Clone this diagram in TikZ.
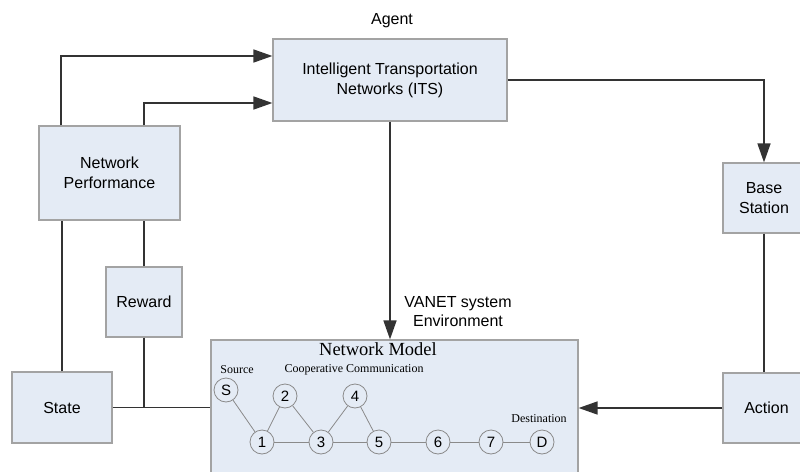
\documentclass[tikz,border=0pt]{standalone}
\usepackage{fontspec}
\setmainfont{Liberation Sans}
\newfontfamily\serifnet{Liberation Serif}
\usetikzlibrary{arrows.meta, positioning}
\definecolor{boxfill}{HTML}{E4EBF5}
\definecolor{boxline}{HTML}{A3A3A3}
\definecolor{wirecol}{HTML}{333333}
\definecolor{nodeline}{HTML}{8A8A8A}

\begin{document}
\begin{tikzpicture}[
  x=1pt, y=-1pt,
  block/.style={draw=boxline, fill=boxfill, line width=1.2pt, align=center, inner sep=0pt,
    font=\fontsize{16}{20}\selectfont},
  plain/.style={align=center, inner sep=0pt, font=\fontsize{16}{19}\selectfont},
  vnode/.style={circle, draw=nodeline, fill=boxfill, line width=0.8pt, minimum size=24pt,
    inner sep=0pt, font=\fontsize{15}{15}\selectfont},
  tag/.style={inner sep=0pt, font=\serifnet\fontsize{12}{12}\selectfont},
  link/.style={draw=nodeline, line width=0.8pt},
  wire/.style={draw=wirecol, line width=1.6pt},
  arrow/.style={wire, -{Triangle[length=19pt, width=13pt]}}
]
\useasboundingbox (0,0) rectangle (800,471);
\clip (0,0) rectangle (800,471);

% boxes
\node[plain] (agent) at (392,21) {Agent};
\node[block, minimum width=234pt, minimum height=82pt] (its) at (390,80) {Intelligent Transportation\\Networks (ITS)};
\node[block, minimum width=141pt, minimum height=94pt] (perf) at (109.5,173) {Network\\Performance};
\node[block, minimum width=76pt, minimum height=70pt] (reward) at (144,302) {Reward};
\node[block, minimum width=100pt, minimum height=71pt] (state) at (62,407.5) {State};
\node[block, minimum width=82pt, minimum height=70pt] (base) at (764,198) {Base\\Station};
\node[block, minimum width=87pt, minimum height=70pt] (action) at (766.5,408) {Action};
\node[plain] (env) at (458,312) {VANET system\\Environment};

% network model
\node[block, minimum width=367pt, minimum height=150pt] (model) at (394.5,415) {};
\node[inner sep=0pt, font=\serifnet\fontsize{18.5}{18.5}\selectfont] (title) at (378,349) {Network Model};
\node[tag] (src) at (237,370) {Source};
\node[tag] (coop) at (354,370) {Cooperative Communication};
\node[tag] (dst) at (539,419) {Destination};

\node[vnode] (s) at (226,390) {S};
\node[vnode] (n2) at (285,396) {2};
\node[vnode] (n4) at (355,396) {4};
\node[vnode] (n1) at (262,442) {1};
\node[vnode] (n3) at (321,442) {3};
\node[vnode] (n5) at (379,442) {5};
\node[vnode] (n6) at (438,442) {6};
\node[vnode] (n7) at (491,442) {7};
\node[vnode] (d) at (542,442) {D};
\foreach \a/\b in {s/n1, n2/n1, n2/n3, n4/n3, n4/n5, n1/n3, n3/n5, n5/n6, n6/n7, n7/d}
  \draw[link] (\a) -- (\b);

% connectors
\draw[arrow] ([xshift=-48.5pt]perf.north) |- ([yshift=24pt]its.west);
\draw[arrow] ([xshift=34.5pt]perf.north) |- ([yshift=-23pt]its.west);
\draw[wire] (state.north) -- (state.north |- perf.south);
\draw[wire] (reward.north) -- (reward.north |- perf.south);
\draw[wire] (reward.south) -- (reward.south |- state.east);
\draw[wire] (state.east) -- (state.east -| model.west);
\draw[arrow] (its.east) -| (base.north);
\draw[wire] (base.south) -- (base.south |- action.north);
\draw[arrow] (action.west) -- (action.west -| model.east);
\draw[arrow] (its.south) -- (its.south |- model.north);
\end{tikzpicture}
\end{document}
